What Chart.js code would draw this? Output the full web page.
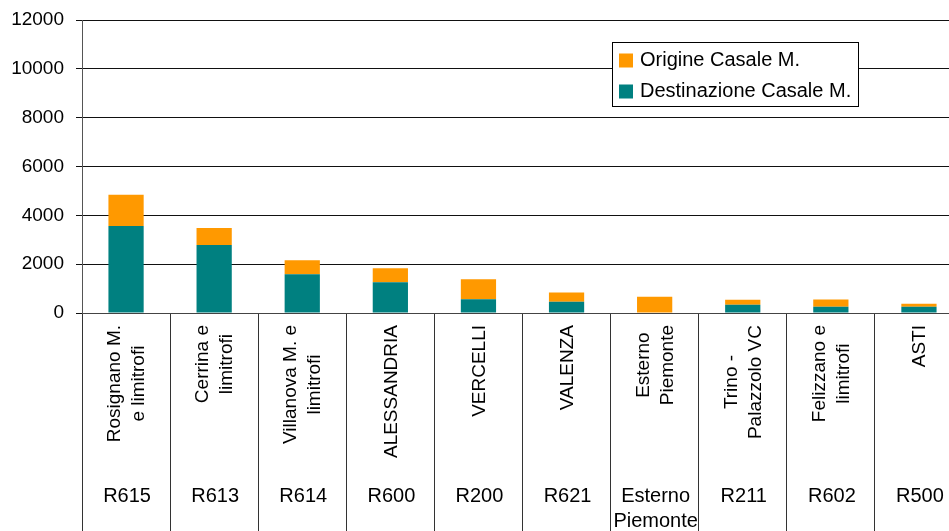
<!DOCTYPE html>
<html>
<head>
<meta charset="utf-8">
<script src="https://cdn.jsdelivr.net/npm/chart.js@4.4.1/dist/chart.umd.min.js"></script>
<style>
  html, body { margin:0; padding:0; background:#fff; overflow:hidden; width:949px; height:531px; }
  #wrap { position:absolute; left:0; top:0; width:963px; height:531px; }
</style>
</head>
<body>
<div id="wrap"><canvas id="c" width="963" height="531"></canvas></div>
<script>
// ---- data ----
const categoryNames = [
  ['Rosignano M.', 'e limitrofi'],
  ['Cerrina e', 'limitrofi'],
  ['Villanova M. e', 'limitrofi'],
  ['ALESSANDRIA'],
  ['VERCELLI'],
  ['VALENZA'],
  ['Esterno', 'Piemonte'],
  ['Trino -', 'Palazzolo VC'],
  ['Felizzano e', 'limitrofi'],
  ['ASTI']
];
const categoryCodes = [
  ['R615'], ['R613'], ['R614'], ['R600'], ['R200'], ['R621'],
  ['Esterno', 'Piemonte'], ['R211'], ['R602'], ['R500']
];
const destinazione = [3560, 2780, 1590, 1260, 560, 460, 0, 340, 260, 260];
const origine      = [1280, 700, 575, 575, 825, 375, 670, 205, 290, 120];
const yTicks = [0, 2000, 4000, 6000, 8000, 10000, 12000];
const seriesLabels = ['Origine Casale M.', 'Destinazione Casale M.'];

const FONT = "'Liberation Sans', Arial, sans-serif";

// Draws two-level category labels (rotated names + codes)
const categoryLabelPlugin = {
  id: 'categoryLabels',
  afterDraw(chart) {
    const ctx = chart.ctx;
    const xs = chart.scales.x;
    const bottom = chart.chartArea.bottom;
    ctx.save();
    ctx.fillStyle = '#000';
    // rotated names
    ctx.font = '19px ' + FONT;
    const nameLH = 24;
    categoryNames.forEach((lines, i) => {
      const x = xs.getPixelForValue(i);
      let maxW = 0;
      lines.forEach(l => { maxW = Math.max(maxW, ctx.measureText(l).width); });
      ctx.save();
      ctx.translate(x, bottom + 12);
      ctx.rotate(-Math.PI / 2);
      ctx.textAlign = 'center';
      ctx.textBaseline = 'middle';
      const n = lines.length;
      lines.forEach((l, k) => {
        ctx.fillText(l, -maxW / 2, (k - (n - 1) / 2) * nameLH + 1);
      });
      ctx.restore();
    });
    // codes
    ctx.font = '20px ' + FONT;
    ctx.textAlign = 'center';
    ctx.textBaseline = 'middle';
    categoryCodes.forEach((lines, i) => {
      const x = xs.getPixelForValue(i);
      lines.forEach((l, k) => {
        ctx.fillText(l, x + 1, bottom + 183 + k * 25);
      });
    });
    ctx.restore();
  }
};

// Legend box inside the plot area
const boxLegendPlugin = {
  id: 'boxLegend',
  afterDraw(chart) {
    const ctx = chart.ctx;
    const ds = chart.data.datasets;
    const items = [ds[1], ds[0]];
    const bx = 612.5, by = 42.5, bw = 246, bh = 64;
    ctx.save();
    ctx.fillStyle = '#fff';
    ctx.fillRect(bx, by, bw, bh);
    ctx.strokeStyle = '#000';
    ctx.lineWidth = 1;
    ctx.strokeRect(bx, by, bw, bh);
    ctx.font = '20px ' + FONT;
    ctx.textAlign = 'left';
    ctx.textBaseline = 'middle';
    items.forEach((d, k) => {
      const y = by + 18 + k * 31;
      ctx.fillStyle = d.backgroundColor;
      ctx.fillRect(619, y - 7, 14, 14);
      ctx.fillStyle = '#000';
      ctx.fillText(d.label, 640, y);
    });
    ctx.restore();
  }
};

new Chart(document.getElementById('c'), {
  type: 'bar',
  data: {
    labels: categoryCodes.map(c => c.join(' ')),
    datasets: [
      { label: seriesLabels[1], data: destinazione, backgroundColor: '#008080', barPercentage: 0.4, categoryPercentage: 1.0 },
      { label: seriesLabels[0], data: origine, backgroundColor: '#FF9900', barPercentage: 0.4, categoryPercentage: 1.0 }
    ]
  },
  options: {
    responsive: false,
    devicePixelRatio: 1,
    animation: false,
    layout: { padding: { top: 20, left: 0, right: 0, bottom: 0 } },
    plugins: { legend: { display: false }, tooltip: { enabled: false } },
    scales: {
      x: {
        stacked: true,
        offset: true,
        grid: { display: true, drawOnChartArea: false, drawTicks: true, tickLength: 218, offset: true, color: '#333', lineWidth: 1 },
        border: { display: true, color: '#444', width: 1 },
        ticks: { display: false }
      },
      y: {
        stacked: true,
        min: 0, max: 12000,
        afterBuildTicks(scale) { scale.ticks = yTicks.map(v => ({ value: v })); },
        afterFit(scale) { scale.width = 82; scale.paddingTop = 0; scale.paddingBottom = 0; },
        grid: { color: '#111', lineWidth: 1, tickLength: 6 },
        border: { display: true, color: '#555', width: 1 },
        ticks: { font: { size: 19, family: FONT }, color: '#000', padding: 12, callback: v => String(v) }
      }
    }
  },
  plugins: [categoryLabelPlugin, boxLegendPlugin]
});
</script>
</body>
</html>
